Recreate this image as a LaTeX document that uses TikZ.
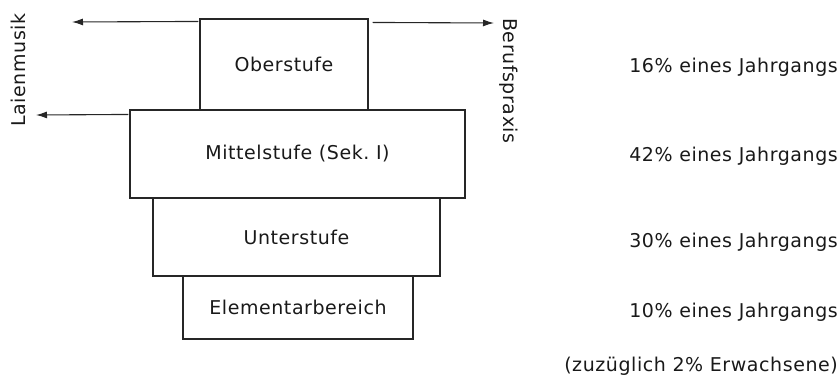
\documentclass[tikz,border=0pt]{standalone}
\usepackage{fontspec}
\setmainfont[LetterSpace=3]{DejaVu Sans}
\usetikzlibrary{arrows.meta,calc}
\begin{document}
\begin{tikzpicture}[x=1pt,y=-1pt,
  ink/.style={draw=black!85,line width=1.1pt},
  label font/.style={font=\fontsize{19}{22}\selectfont,text=black!90},
  stage/.style={ink,rectangle,inner sep=0pt,label font},
  share/.style={anchor=east,inner sep=0pt,label font},
  side/.style={inner sep=0pt,label font},
  flow/.style={ink,-{Latex[length=11pt,width=7pt]}}]
\useasboundingbox (0,0) rectangle (840,382);

% Stufen der Pyramide
\node[stage,minimum width=168,minimum height=91] (ober) at (284,64.5) {Oberstufe};
\node[stage,minimum width=335,minimum height=88] (mittel) at (297.5,154) {Mittelstufe (Sek.\ I)};
\node[stage,minimum width=287,minimum height=78,text depth=-8pt] (unter) at (296.5,237) {Unterstufe};
\node[stage,minimum width=230,minimum height=63,text depth=-3pt] (elem) at (298,307.5) {Elementarbereich};

% Anteile eines Jahrgangs
\node[share] (p16) at (838,67) {16\% eines Jahrgangs};
\node[share] (p42) at (838,156) {42\% eines Jahrgangs};
\node[share] (p30) at (838,242) {30\% eines Jahrgangs};
\node[share] (p10) at (838,312) {10\% eines Jahrgangs};
\node[share] (p2) at (838,366) {(zuzüglich 2\% Erwachsene)};

% Ausgänge
\node[side,rotate=90] (laien) at (18,70) {Laienmusik};
\node[side,rotate=-90] (beruf) at (509,81) {Berufspraxis};
\coordinate (lz1) at (72,22);
\coordinate (lz2) at (36,115);
\coordinate (bz) at (494,23);
\draw[flow] ($(ober.north west)+(-1,3)$) -- (lz1);
\draw[flow] ($(mittel.north west)+(-1,5)$) -- (lz2);
\draw[flow] ($(ober.north east)+(4,4)$) -- (bz);
\end{tikzpicture}
\end{document}
